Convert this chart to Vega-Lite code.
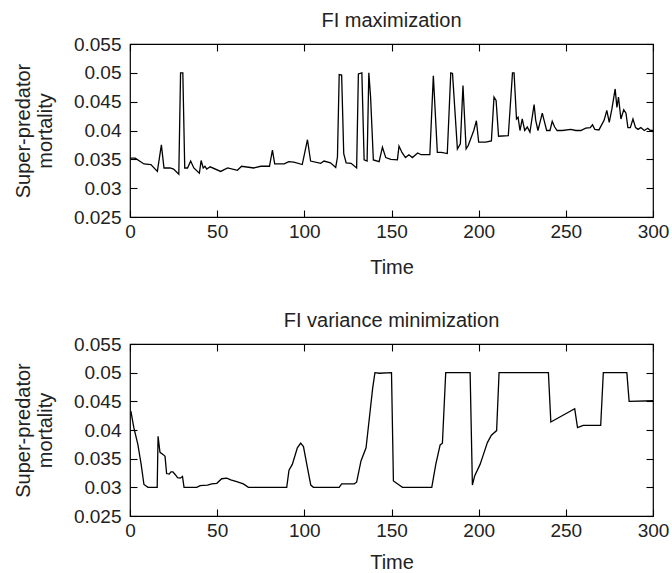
{
  "$schema": "https://vega.github.io/schema/vega-lite/v6.json",
  "padding": {"left": 12, "top": 10, "right": 5, "bottom": 0},
  "background": "white",
  "spacing": 32,
  "config": {
    "font": "Liberation Sans",
    "view": {"stroke": "black", "strokeWidth": 1.2},
    "axis": {
      "labelFont": "Liberation Sans", "labelFontSize": 19, "labelColor": "#222",
      "titleFont": "Liberation Sans", "titleFontSize": 20, "titleFontWeight": "normal", "titleColor": "#222",
      "domain": false, "ticks": true, "tickColor": "black", "tickWidth": 1.1, "grid": false,
      "labelFlush": false, "labelOverlap": false
    },
    "title": {"font": "Liberation Sans", "fontSize": 20, "fontWeight": "normal", "color": "#222", "anchor": "middle", "offset": 4}
  },
  "datasets": {
    "top": [
      {"t":0,"v":0.0352},{"t":3,"v":0.0352},{"t":8,"v":0.0342},{"t":12,"v":0.0341},{"t":15.7,"v":0.0329},{"t":18,"v":0.0375},{"t":19.5,"v":0.0335},{"t":23,"v":0.0335},{"t":25,"v":0.0333},{"t":28,"v":0.0324},{"t":29,"v":0.05},{"t":30.3,"v":0.05},{"t":31.4,"v":0.0335},{"t":33,"v":0.0335},{"t":34.8,"v":0.0347},{"t":36.6,"v":0.0335},{"t":39.8,"v":0.0326},{"t":40.8,"v":0.0348},{"t":42,"v":0.0335},{"t":43,"v":0.0338},{"t":44,"v":0.0333},{"t":46,"v":0.0337},{"t":52,"v":0.0329},{"t":56,"v":0.0335},{"t":61.6,"v":0.0331},{"t":64,"v":0.0338},{"t":71,"v":0.0335},{"t":75,"v":0.0338},{"t":80,"v":0.0338},{"t":81.7,"v":0.0366},{"t":83,"v":0.0342},{"t":88.5,"v":0.0342},{"t":91,"v":0.0346},{"t":94,"v":0.0345},{"t":98.8,"v":0.0341},{"t":101.8,"v":0.0384},{"t":103.6,"v":0.0347},{"t":109.4,"v":0.0343},{"t":111.3,"v":0.0347},{"t":115,"v":0.0344},{"t":118,"v":0.0336},{"t":119,"v":0.0354},{"t":120,"v":0.0497},{"t":121.4,"v":0.0496},{"t":122.6,"v":0.036},{"t":124,"v":0.0344},{"t":126.8,"v":0.0343},{"t":130,"v":0.0335},{"t":131,"v":0.0498},{"t":133,"v":0.05},{"t":134.3,"v":0.0349},{"t":136,"v":0.0347},{"t":137,"v":0.05},{"t":138,"v":0.0458},{"t":139.6,"v":0.0349},{"t":142.9,"v":0.0346},{"t":144.8,"v":0.0371},{"t":146.7,"v":0.0353},{"t":149.6,"v":0.035},{"t":153.4,"v":0.0349},{"t":154.3,"v":0.0373},{"t":156,"v":0.0362},{"t":158,"v":0.0353},{"t":160,"v":0.0358},{"t":162,"v":0.0353},{"t":165,"v":0.0361},{"t":167,"v":0.0358},{"t":172,"v":0.0358},{"t":174,"v":0.0495},{"t":176.3,"v":0.0362},{"t":178.6,"v":0.0362},{"t":182,"v":0.036},{"t":184,"v":0.05},{"t":185,"v":0.0499},{"t":187.8,"v":0.0368},{"t":189.5,"v":0.0377},{"t":191,"v":0.0478},{"t":192.8,"v":0.0368},{"t":194,"v":0.0374},{"t":197.2,"v":0.04},{"t":198.7,"v":0.0417},{"t":200,"v":0.038},{"t":204,"v":0.038},{"t":207.3,"v":0.0382},{"t":208.8,"v":0.0458},{"t":210,"v":0.0452},{"t":211.4,"v":0.039},{"t":217,"v":0.0391},{"t":219.4,"v":0.05},{"t":220.3,"v":0.05},{"t":221.7,"v":0.042},{"t":222.6,"v":0.0423},{"t":223.7,"v":0.04},{"t":225,"v":0.042},{"t":226.4,"v":0.04},{"t":227.9,"v":0.0406},{"t":229.4,"v":0.0397},{"t":231.8,"v":0.0445},{"t":232.7,"v":0.0418},{"t":234,"v":0.04},{"t":236.5,"v":0.043},{"t":237.5,"v":0.0418},{"t":239,"v":0.04},{"t":240.9,"v":0.04},{"t":242.2,"v":0.0416},{"t":243.6,"v":0.0406},{"t":245,"v":0.04},{"t":248,"v":0.04},{"t":252.9,"v":0.0402},{"t":255.7,"v":0.04},{"t":258.6,"v":0.04},{"t":261.4,"v":0.0404},{"t":264,"v":0.0405},{"t":265.3,"v":0.041},{"t":266.6,"v":0.0402},{"t":269,"v":0.0401},{"t":272,"v":0.0418},{"t":273.5,"v":0.0435},{"t":274.9,"v":0.0414},{"t":276.4,"v":0.0437},{"t":278.3,"v":0.0472},{"t":279.3,"v":0.044},{"t":280.2,"v":0.0458},{"t":281.6,"v":0.042},{"t":283.2,"v":0.0436},{"t":284.5,"v":0.043},{"t":285.6,"v":0.0405},{"t":287,"v":0.0405},{"t":288.5,"v":0.042},{"t":290,"v":0.0405},{"t":291.4,"v":0.0402},{"t":293,"v":0.0405},{"t":295,"v":0.04},{"t":297,"v":0.0404},{"t":298.5,"v":0.04},{"t":300,"v":0.04}
    ],
    "bottom": [
      {"t":0.5,"v":0.0433},{"t":2.2,"v":0.0404},{"t":4.5,"v":0.0375},{"t":6.4,"v":0.034},{"t":8,"v":0.0305},{"t":10.3,"v":0.03},{"t":15.6,"v":0.03},{"t":16.1,"v":0.0389},{"t":17.2,"v":0.0361},{"t":19.1,"v":0.0357},{"t":20.1,"v":0.0354},{"t":21,"v":0.0324},{"t":22.5,"v":0.0323},{"t":23.5,"v":0.0327},{"t":24.6,"v":0.0327},{"t":26,"v":0.0322},{"t":27.3,"v":0.0317},{"t":28.8,"v":0.0316},{"t":30.1,"v":0.0319},{"t":31,"v":0.03},{"t":38.3,"v":0.03},{"t":40.2,"v":0.0303},{"t":44.4,"v":0.0304},{"t":46.9,"v":0.0306},{"t":49.8,"v":0.0307},{"t":52.6,"v":0.0315},{"t":55.5,"v":0.0316},{"t":57.8,"v":0.0313},{"t":61.2,"v":0.031},{"t":65,"v":0.0306},{"t":67.9,"v":0.03},{"t":76.5,"v":0.03},{"t":89.9,"v":0.03},{"t":91.2,"v":0.033},{"t":93.1,"v":0.034},{"t":96,"v":0.0369},{"t":97.9,"v":0.0377},{"t":99.5,"v":0.0371},{"t":101.8,"v":0.0334},{"t":103.7,"v":0.0304},{"t":105.2,"v":0.03},{"t":120,"v":0.03},{"t":121.4,"v":0.0306},{"t":128.6,"v":0.0306},{"t":130,"v":0.0309},{"t":132.5,"v":0.0346},{"t":135.4,"v":0.0369},{"t":137.3,"v":0.0421},{"t":139.2,"v":0.0473},{"t":140.5,"v":0.05},{"t":143,"v":0.0499},{"t":150,"v":0.05},{"t":151.1,"v":0.0311},{"t":154.4,"v":0.0304},{"t":156.3,"v":0.03},{"t":173.1,"v":0.03},{"t":175.4,"v":0.034},{"t":177.9,"v":0.0374},{"t":179.2,"v":0.0377},{"t":181.1,"v":0.05},{"t":195.1,"v":0.05},{"t":196.4,"v":0.0304},{"t":197.7,"v":0.032},{"t":200.8,"v":0.034},{"t":202.7,"v":0.0357},{"t":205,"v":0.0378},{"t":207.3,"v":0.0391},{"t":210.3,"v":0.0399},{"t":211.7,"v":0.05},{"t":240,"v":0.05},{"t":241.4,"v":0.0414},{"t":255.1,"v":0.0437},{"t":256.7,"v":0.0404},{"t":260,"v":0.0408},{"t":270,"v":0.0408},{"t":271.5,"v":0.05},{"t":285,"v":0.05},{"t":286.3,"v":0.045},{"t":300,"v":0.0451}
    ]
  },
  "vconcat": [
    {
      "title": "FI maximization",
      "width": 523, "height": 173,
      "data": {"name": "top"},
      "layer": [
        {
          "mark": {"type": "line", "color": "black", "strokeWidth": 1.3},
          "encoding": {
            "x": {"field": "t", "type": "quantitative", "title": "Time", "scale": {"domain": [0, 300], "nice": false}, "axis": {"values": [0,50,100,150,200,250,300], "orient": "bottom", "ticks": true, "tickSize": 7, "offset": -7, "labelPadding": 5, "titlePadding": 16}},
            "y": {"field": "v", "type": "quantitative", "title": ["Super-predator", "mortality"], "scale": {"domain": [0.025, 0.055], "nice": false, "zero": false}, "axis": {"values": [0.025,0.03,0.035,0.04,0.045,0.05,0.055], "format": ".3~f", "orient": "left", "ticks": true, "tickSize": 7, "offset": -7, "labelPadding": 9, "titlePadding": 18}}
          }
        },
        {
          "mark": {"type": "line", "opacity": 0},
          "encoding": {
            "x": {"field": "t", "type": "quantitative", "scale": {"domain": [0, 300], "nice": false}, "axis": {"values": [0,50,100,150,200,250,300], "orient": "top", "ticks": true, "tickSize": 7, "offset": -7, "labels": false, "title": null}},
            "y": {"field": "v", "type": "quantitative", "scale": {"domain": [0.025, 0.055], "nice": false, "zero": false}, "axis": {"values": [0.025,0.03,0.035,0.04,0.045,0.05,0.055], "orient": "right", "ticks": true, "tickSize": 7, "offset": -7, "labels": false, "title": null}}
          }
        }
      ],
      "resolve": {"axis": {"x": "independent", "y": "independent"}}
    },
    {
      "title": "FI variance minimization",
      "width": 523, "height": 172,
      "data": {"name": "bottom"},
      "layer": [
        {
          "mark": {"type": "line", "color": "black", "strokeWidth": 1.3},
          "encoding": {
            "x": {"field": "t", "type": "quantitative", "title": "Time", "scale": {"domain": [0, 300], "nice": false}, "axis": {"values": [0,50,100,150,200,250,300], "orient": "bottom", "ticks": true, "tickSize": 7, "offset": -7, "labelPadding": 5, "titlePadding": 12}},
            "y": {"field": "v", "type": "quantitative", "title": ["Super-predator", "mortality"], "scale": {"domain": [0.025, 0.055], "nice": false, "zero": false}, "axis": {"values": [0.025,0.03,0.035,0.04,0.045,0.05,0.055], "format": ".3~f", "orient": "left", "ticks": true, "tickSize": 7, "offset": -7, "labelPadding": 9, "titlePadding": 18}}
          }
        },
        {
          "mark": {"type": "line", "opacity": 0},
          "encoding": {
            "x": {"field": "t", "type": "quantitative", "scale": {"domain": [0, 300], "nice": false}, "axis": {"values": [0,50,100,150,200,250,300], "orient": "top", "ticks": true, "tickSize": 7, "offset": -7, "labels": false, "title": null}},
            "y": {"field": "v", "type": "quantitative", "scale": {"domain": [0.025, 0.055], "nice": false, "zero": false}, "axis": {"values": [0.025,0.03,0.035,0.04,0.045,0.05,0.055], "orient": "right", "ticks": true, "tickSize": 7, "offset": -7, "labels": false, "title": null}}
          }
        }
      ],
      "resolve": {"axis": {"x": "independent", "y": "independent"}}
    }
  ]
}
